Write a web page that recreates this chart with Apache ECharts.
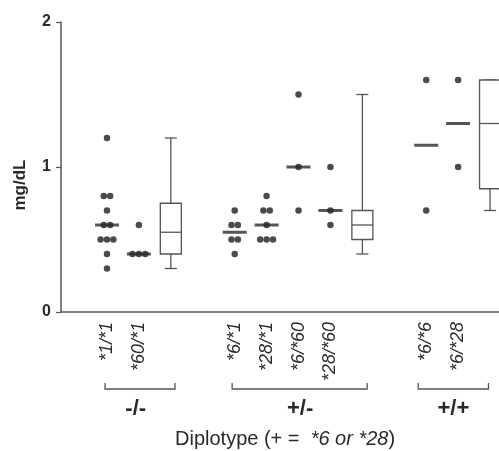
<!DOCTYPE html>
<html lang="en">
<head>
    <meta charset="UTF-8">
    <title>Diplotype</title>
    <script src="https://cdn.jsdelivr.net/npm/echarts@6/dist/echarts.min.js"></script>
    <style>
        html, body { margin: 0; padding: 0; background: #fff; }
        #main { width: 499px; height: 451px; }
    </style>
</head>
<body>
<div id="main"></div>
<script>
    // genotype columns (x positions in "slot" units)
    var genotypes = ['*1/*1', '*60/*1', '*6/*1', '*28/*1', '*6/*60', '*28/*60', '*6/*6', '*6/*28'];
    var genoPos = [1, 2, 5, 6, 7, 8, 11, 12];
    var genoValues = [
        [1.2, 0.8, 0.8, 0.7, 0.6, 0.6, 0.5, 0.5, 0.5, 0.4, 0.3],
        [0.6, 0.4, 0.4, 0.4],
        [0.7, 0.6, 0.6, 0.5, 0.5, 0.4],
        [0.8, 0.7, 0.7, 0.6, 0.5, 0.5, 0.5],
        [1.5, 1.0, 0.7],
        [1.0, 0.7, 0.6],
        [1.6, 0.7],
        [1.6, 1.0]
    ];
    var genoMedians = [0.6, 0.4, 0.55, 0.6, 1.0, 0.7, 1.15, 1.3];

    // box plots per diplotype group: [min, q1, median, q3, max]
    var boxPos = [3, 9, 13];
    var boxStats = [
        [0.3, 0.4, 0.55, 0.75, 1.2],
        [0.4, 0.5, 0.6, 0.7, 1.5],
        [0.7, 0.85, 1.3, 1.6, 1.6]
    ];

    // group brackets under the axis
    var groupNames = ['-/-', '+/-', '+/+'];
    var groupStart = [0.94, 4.92, 10.75];
    var groupEnd = [3.13, 9.15, 12.95];
    var groupLabelPos = [1.9, 7.05, 11.85];

    var yTicks = [0, 1, 2];

    var dotSpacing = 0.2;
    var dots = [];
    genoValues.forEach(function (vals, i) {
        var counts = {};
        vals.forEach(function (v) { counts[v] = (counts[v] || 0) + 1; });
        Object.keys(counts).forEach(function (k) {
            var n = counts[k];
            for (var j = 0; j < n; j++) {
                dots.push([genoPos[i] + (j - (n - 1) / 2) * dotSpacing, +k]);
            }
        });
    });
    var medianData = genoMedians.map(function (m, i) { return [genoPos[i], m]; });
    var boxData = boxStats.map(function (s, i) { return [boxPos[i]].concat(s); });
    var groupData = groupNames.map(function (g, i) { return [groupStart[i], groupEnd[i], groupLabelPos[i]]; });

    var axisColor = '#555';
    var textColor = '#2a2a2a';

    var myChart = echarts.init(document.getElementById('main'));
    var option = {
        animation: false,
        backgroundColor: '#fff',
        title: {
            text: '{n|Diplotype (+ =  }{i|*6 or *28}{n|)}',
            left: 175,
            top: 429,
            padding: 0,
            textStyle: {
                fontWeight: 'normal',
                rich: {
                    n: { fontFamily: 'Liberation Sans, Arial', fontSize: 20, fontWeight: 'normal', color: textColor },
                    i: { fontFamily: 'Liberation Sans, Arial', fontSize: 20, fontWeight: 'normal', fontStyle: 'italic', color: textColor }
                }
            }
        },
        grid: { left: 61, right: 0, top: 22, bottom: 139, containLabel: false, outerBoundsMode: 'none' },
        xAxis: {
            type: 'value',
            min: -0.44,
            max: 13.28,
            splitLine: { show: false },
            axisTick: { show: false },
            axisLine: { onZero: false, lineStyle: { color: axisColor, width: 1.5 } },
            axisLabel: {
                customValues: genoPos,
                rotate: 90,
                margin: 10,
                fontFamily: 'Liberation Sans, Arial',
                fontSize: 18,
                fontStyle: 'italic',
                color: textColor,
                formatter: function (v) {
                    var idx = genoPos.indexOf(v);
                    return idx >= 0 ? genotypes[idx] : '';
                }
            }
        },
        yAxis: {
            type: 'value',
            min: 0,
            max: 2,
            interval: 1,
            name: 'mg/dL',
            nameLocation: 'middle',
            nameGap: 32,
            nameTextStyle: {
                fontFamily: 'Liberation Sans, Arial',
                fontSize: 17,
                fontWeight: 'bold',
                color: textColor,
                padding: [0, 36, 0, 0]
            },
            splitLine: { show: false },
            axisLine: { show: true, onZero: false, lineStyle: { color: axisColor, width: 1.5 } },
            axisTick: { show: true, length: 5, customValues: yTicks, lineStyle: { color: axisColor, width: 1.2 } },
            axisLabel: {
                customValues: yTicks,
                margin: 10,
                fontFamily: 'Liberation Sans, Arial',
                fontSize: 16,
                fontWeight: 'bold',
                color: textColor
            }
        },
        series: [
            {
                type: 'scatter',
                data: dots,
                symbol: 'circle',
                symbolSize: 6.5,
                itemStyle: { color: '#1e1e1e' }
            },
            {
                type: 'scatter',
                data: medianData,
                symbol: 'rect',
                symbolSize: [24, 3],
                itemStyle: { color: '#2a2a2a' }
            },
            {
                type: 'custom',
                clip: false,
                data: boxData,
                renderItem: function (params, api) {
                    var x = api.value(0);
                    var pMin = api.coord([x, api.value(1)]);
                    var pQ1 = api.coord([x, api.value(2)]);
                    var pMed = api.coord([x, api.value(3)]);
                    var pQ3 = api.coord([x, api.value(4)]);
                    var pMax = api.coord([x, api.value(5)]);
                    var cx = pMin[0];
                    var hw = 10.5, cw = 6;
                    var st = { stroke: '#555', lineWidth: 1.3, fill: null };
                    return {
                        type: 'group',
                        children: [
                            { type: 'line', shape: { x1: cx, y1: pQ3[1], x2: cx, y2: pMax[1] }, style: st },
                            { type: 'line', shape: { x1: cx - cw, y1: pMax[1], x2: cx + cw, y2: pMax[1] }, style: st },
                            { type: 'line', shape: { x1: cx, y1: pQ1[1], x2: cx, y2: pMin[1] }, style: st },
                            { type: 'line', shape: { x1: cx - cw, y1: pMin[1], x2: cx + cw, y2: pMin[1] }, style: st },
                            { type: 'rect', shape: { x: cx - hw, y: pQ3[1], width: hw * 2, height: pQ1[1] - pQ3[1] }, style: { stroke: '#555', lineWidth: 1.3, fill: '#fff' } },
                            { type: 'line', shape: { x1: cx - hw, y1: pMed[1], x2: cx + hw, y2: pMed[1] }, style: st }
                        ]
                    };
                }
            },
            {
                type: 'custom',
                clip: false,
                data: groupData,
                renderItem: function (params, api) {
                    var y0 = api.coord([0, 0])[1];
                    var x1 = api.coord([api.value(0), 0])[0];
                    var x2 = api.coord([api.value(1), 0])[0];
                    var xl = api.coord([api.value(2), 0])[0];
                    var yb = y0 + 77;
                    var st = { stroke: '#555', lineWidth: 1.3, fill: null };
                    return {
                        type: 'group',
                        children: [
                            { type: 'polyline', shape: { points: [[x1, yb - 6], [x1, yb], [x2, yb], [x2, yb - 6]] }, style: st },
                            {
                                type: 'text',
                                style: {
                                    x: xl, y: y0 + 97,
                                    text: groupNames[params.dataIndex],
                                    align: 'center', verticalAlign: 'middle',
                                    font: 'bold 22px "Liberation Sans", Arial',
                                    fill: textColor
                                }
                            }
                        ]
                    };
                }
            }
        ]
    };
    myChart.setOption(option);
</script>
</body>
</html>
